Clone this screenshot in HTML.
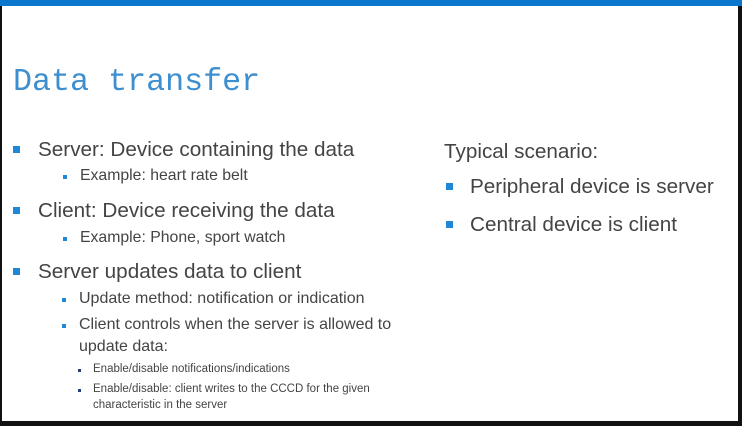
<!DOCTYPE html>
<html><head><meta charset="utf-8"><style>
html,body{margin:0;padding:0}
body{width:742px;height:426px;position:relative;overflow:hidden;background:#fff;font-family:"Liberation Sans",Arial,sans-serif;color:#444}
.t{position:absolute;white-space:nowrap}
.b{position:absolute;background:#1e88d6}
</style></head><body>
<div style="position:absolute;left:0;top:0;width:2px;height:426px;background:#111"></div>
<div style="position:absolute;left:738px;top:0;width:4px;height:426px;background:#111"></div>
<div style="position:absolute;left:0;top:421px;width:742px;height:5px;background:#111"></div>
<div style="position:absolute;left:0;top:0;width:742px;height:6px;background:#0a77cc"></div>

<div class="t" style="left:13px;top:65px;font-family:'Liberation Mono',monospace;font-size:31.7px;line-height:34px;color:#3d8fcf">Data transfer</div>

<div class="b" style="left:13px;top:146px;width:7px;height:7px"></div>
<div class="t" style="left:38px;top:138px;font-size:20.7px;line-height:23px">Server: Device containing the data</div>
<div class="b" style="left:63px;top:175px;width:4px;height:4px"></div>
<div class="t" style="left:80px;top:167px;font-size:15.8px;line-height:18px">Example: heart rate belt</div>

<div class="b" style="left:13px;top:207px;width:7px;height:7px"></div>
<div class="t" style="left:38px;top:199px;font-size:20.7px;line-height:23px">Client: Device receiving the data</div>
<div class="b" style="left:63px;top:237px;width:4px;height:4px"></div>
<div class="t" style="left:80px;top:229px;font-size:15.8px;line-height:18px">Example: Phone, sport watch</div>

<div class="b" style="left:13px;top:268px;width:7px;height:7px"></div>
<div class="t" style="left:38px;top:260px;font-size:20.7px;line-height:23px">Server updates data to client</div>

<div class="b" style="left:62px;top:298px;width:4px;height:4px"></div>
<div class="t" style="left:79px;top:289px;font-size:16px;line-height:19px">Update method: notification or indication</div>
<div class="b" style="left:62px;top:324px;width:4px;height:4px"></div>
<div class="t" style="left:79px;top:315px;font-size:16px;line-height:19px">Client controls when the server is allowed to</div>
<div class="t" style="left:79px;top:337px;font-size:16px;line-height:19px">update data:</div>

<div style="position:absolute;left:78px;top:369px;width:3px;height:3px;background:#2a3a7a"></div>
<div class="t" style="left:93px;top:362px;font-size:11.5px;line-height:14px">Enable/disable notifications/indications</div>
<div style="position:absolute;left:78px;top:389px;width:3px;height:3px;background:#2a3a7a"></div>
<div class="t" style="left:93px;top:382px;font-size:11.5px;line-height:14px">Enable/disable: client writes to the CCCD for the given</div>
<div class="t" style="left:93px;top:398px;font-size:11.5px;line-height:14px">characteristic in the server</div>

<div class="t" style="left:444px;top:140px;font-size:20.7px;line-height:23px">Typical scenario:</div>
<div class="b" style="left:446px;top:183px;width:7px;height:7px"></div>
<div class="t" style="left:470px;top:175px;font-size:20.7px;line-height:23px">Peripheral device is server</div>
<div class="b" style="left:446px;top:221px;width:7px;height:7px"></div>
<div class="t" style="left:470px;top:213px;font-size:20.7px;line-height:23px">Central device is client</div>
</body></html>
